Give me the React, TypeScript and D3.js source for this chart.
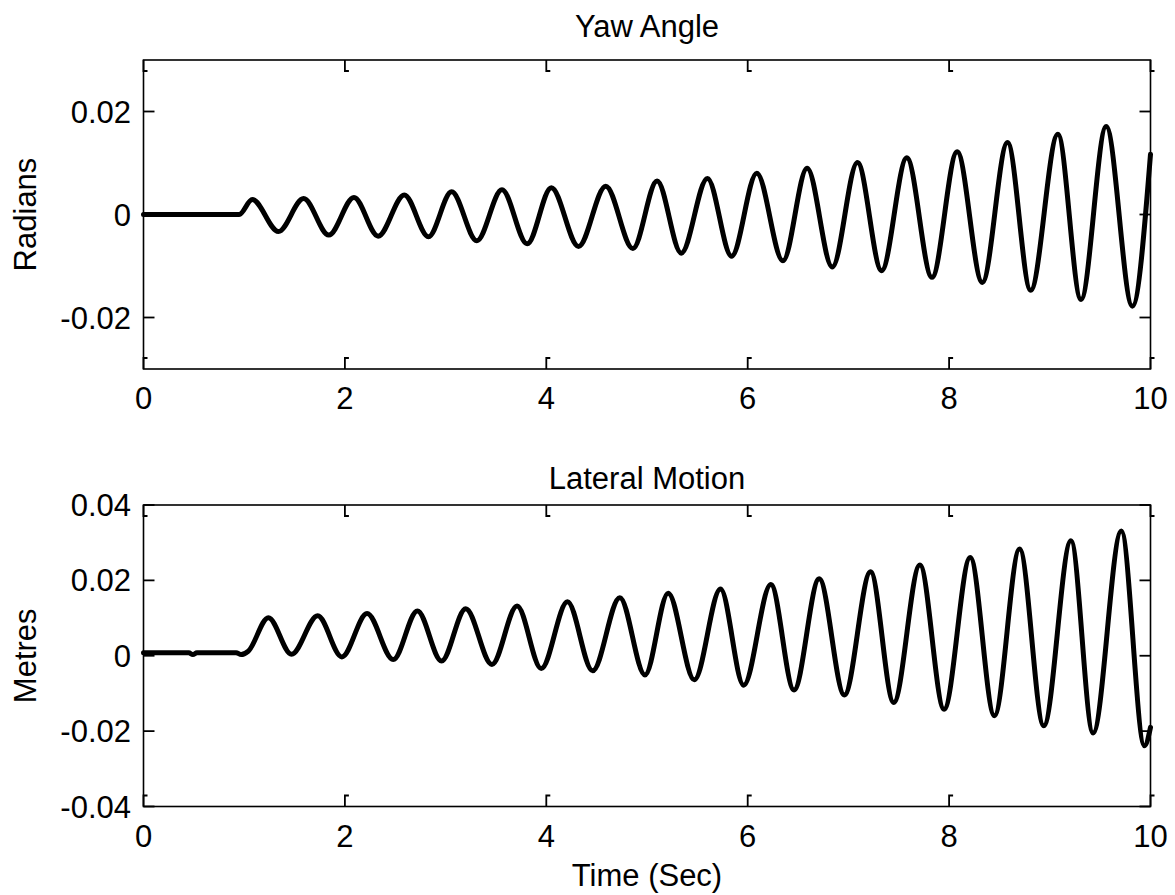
import React from "react";
import * as d3 from "d3";

// Yaw angle response (rad): onset, then alternating peaks and troughs
const yawTime = [
  0, 0.95, 1.08, 1.34, 1.59, 1.84, 2.09, 2.33, 2.59, 2.83, 3.06, 3.31, 3.56, 3.81,
  4.05, 4.32, 4.59, 4.86, 5.1, 5.34, 5.6, 5.84, 6.09, 6.35, 6.59, 6.84, 7.09, 7.33,
  7.58, 7.83, 8.08, 8.33, 8.58, 8.81, 9.08, 9.31, 9.56, 9.82, 10,
];
const yawValue = [
  0, 0, 0.0029, -0.0033, 0.0031, -0.004, 0.0033, -0.0042, 0.0038, -0.0043, 0.0044,
  -0.0051, 0.0048, -0.0057, 0.0052, -0.0062, 0.0055, -0.0066, 0.0065, -0.0075, 0.007,
  -0.0081, 0.008, -0.009, 0.009, -0.0102, 0.0101, -0.0109, 0.011, -0.0122, 0.0122,
  -0.0132, 0.014, -0.0147, 0.0156, -0.0165, 0.0171, -0.0178, 0.0117,
];

// Lateral motion response (m)
const latTime = [
  0, 0.45, 0.49, 0.53, 0.92, 0.97, 1.04, 1.24, 1.47, 1.73, 1.97, 2.22, 2.48, 2.72,
  2.96, 3.2, 3.46, 3.71, 3.95, 4.21, 4.46, 4.73, 4.98, 5.21, 5.47, 5.73, 5.96, 6.23,
  6.46, 6.71, 6.96, 7.22, 7.45, 7.71, 7.95, 8.21, 8.45, 8.7, 8.94, 9.21, 9.43, 9.71,
  9.94, 10,
];
const latValue = [
  0.0008, 0.0008, 0.0003, 0.0008, 0.0008, 0.0003, 0.0012, 0.0101, 0.0004, 0.0106,
  -0.0003, 0.0112, -0.001, 0.0119, -0.0014, 0.0125, -0.0023, 0.0132, -0.0034, 0.0143,
  -0.004, 0.0154, -0.0051, 0.0166, -0.0064, 0.0177, -0.0078, 0.0189, -0.0091, 0.0204,
  -0.0104, 0.0223, -0.0124, 0.0241, -0.0142, 0.0261, -0.0159, 0.0283, -0.0186, 0.0305,
  -0.0205, 0.0331, -0.0239, -0.019,
];

const xTicks = [0, 2, 4, 6, 8, 10];
const yawTicks = [-0.02, 0, 0.02];
const latTicks = [-0.04, -0.02, 0, 0.02, 0.04];

const FONT = "'Liberation Sans', Arial, Helvetica, sans-serif";
const FS = 31;
const LEFT = 143.5;
const RIGHT = 1150.5;
const TICK = 11;
const FOOT = 4;

type PanelProps = {
  title: string;
  titleY: number;
  ylabel: string;
  top: number;
  bottom: number;
  yDomain: [number, number];
  yTicks: number[];
  t: number[];
  v: number[];
  xlabel?: string;
};

function fmt(d: number) {
  if (d === 0) return "0";
  return d.toFixed(2);
}

function Panel(p: PanelProps) {
  const x = d3.scaleLinear().domain([0, 10]).range([LEFT, RIGHT]);
  const y = d3.scaleLinear().domain(p.yDomain).range([p.bottom, p.top]);
  const pts: [number, number][] = p.t.map((tt, i) => [tt, p.v[i]]);
  const line = d3
    .line<[number, number]>()
    .x((d) => x(d[0]))
    .y((d) => y(d[1]))
    .curve(d3.curveMonotoneX);

  // inward ticks with a short foot at the inner end
  const tickPaths: string[] = [];
  xTicks.forEach((tv) => {
    const xx = x(tv);
    tickPaths.push(`M${xx},${p.top}V${p.top + TICK}H${xx + FOOT}`);
    tickPaths.push(`M${xx},${p.bottom}V${p.bottom - TICK}H${xx + FOOT}`);
  });
  p.yTicks.forEach((tv) => {
    const yy = y(tv);
    tickPaths.push(`M${LEFT},${yy}H${LEFT + TICK}`);
    tickPaths.push(`M${RIGHT},${yy}H${RIGHT - TICK}`);
  });

  const midY = (p.top + p.bottom) / 2;
  return (
    <g>
      <text
        x={(LEFT + RIGHT) / 2}
        y={p.titleY}
        textAnchor="middle"
        fontSize={FS}
        fontFamily={FONT}
        fill="#000"
      >
        {p.title}
      </text>
      <path
        d={line(pts) || ""}
        fill="none"
        stroke="#000"
        strokeWidth={5}
        strokeLinejoin="round"
        strokeLinecap="round"
      />
      <rect
        x={LEFT}
        y={p.top}
        width={RIGHT - LEFT}
        height={p.bottom - p.top}
        fill="none"
        stroke="#000"
        strokeWidth={1.6}
      />
      {tickPaths.map((d, i) => (
        <path key={i} d={d} fill="none" stroke="#000" strokeWidth={1.8} />
      ))}
      {xTicks.map((tv) => (
        <text
          key={tv}
          x={x(tv)}
          y={p.bottom + 40}
          textAnchor="middle"
          fontSize={FS}
          fontFamily={FONT}
          fill="#000"
        >
          {tv}
        </text>
      ))}
      {p.yTicks.map((tv) => (
        <text
          key={tv}
          x={131}
          y={y(tv) + 11}
          textAnchor="end"
          fontSize={FS}
          fontFamily={FONT}
          fill="#000"
        >
          {fmt(tv)}
        </text>
      ))}
      <text
        transform={`translate(36,${midY}) rotate(-90)`}
        textAnchor="middle"
        fontSize={FS}
        fontFamily={FONT}
        fill="#000"
      >
        {p.ylabel}
      </text>
      {p.xlabel && (
        <text
          x={(LEFT + RIGHT) / 2}
          y={886}
          textAnchor="middle"
          fontSize={FS}
          fontFamily={FONT}
          fill="#000"
        >
          {p.xlabel}
        </text>
      )}
    </g>
  );
}

export default function App() {
  return (
    <svg
      width={1175}
      height={895}
      viewBox="0 0 1175 895"
      style={{ position: "absolute", left: 0, top: 0, background: "#fff" }}
    >
      <rect x={0} y={0} width={1175} height={895} fill="#fff" />
      <Panel
        title="Yaw Angle"
        titleY={37}
        ylabel="Radians"
        top={60}
        bottom={369}
        yDomain={[-0.03, 0.03]}
        yTicks={yawTicks}
        t={yawTime}
        v={yawValue}
      />
      <Panel
        title="Lateral Motion"
        titleY={489}
        ylabel="Metres"
        top={505}
        bottom={806.5}
        yDomain={[-0.04, 0.04]}
        yTicks={latTicks}
        t={latTime}
        v={latValue}
        xlabel="Time (Sec)"
      />
    </svg>
  );
}
